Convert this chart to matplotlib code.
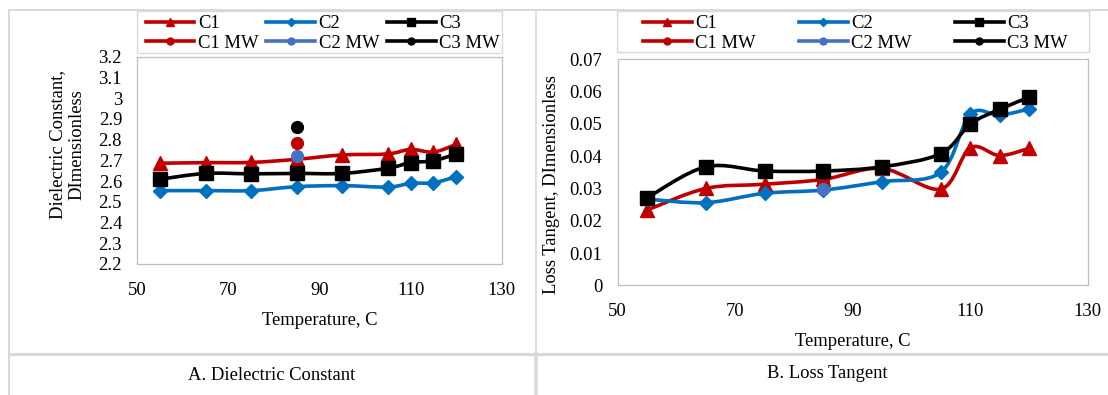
import numpy as np
import matplotlib
matplotlib.use("Agg")
import matplotlib.pyplot as plt
from matplotlib.path import Path
from matplotlib.patches import PathPatch, Rectangle
from matplotlib.lines import Line2D

# ---------- data ----------
temps = [55, 65, 75, 85, 95, 105, 110, 115, 120]
mw_temp = [85]

# dielectric constant
dk_c1 = [2.686, 2.689, 2.690, 2.705, 2.726, 2.731, 2.753, 2.740, 2.777]
dk_c2 = [2.554, 2.554, 2.554, 2.573, 2.578, 2.571, 2.589, 2.592, 2.621]
dk_c3 = [2.609, 2.637, 2.635, 2.637, 2.637, 2.662, 2.689, 2.698, 2.731]
dk_c1_mw = [2.785]
dk_c2_mw = [2.722]
dk_c3_mw = [2.859]

# loss tangent
lt_c1 = [0.0233, 0.0300, 0.0313, 0.0328, 0.0362, 0.0298, 0.0426, 0.0402, 0.0424]
lt_c2 = [0.0267, 0.0256, 0.0285, 0.0295, 0.0321, 0.0350, 0.0530, 0.0527, 0.0546]
lt_c3 = [0.0271, 0.0367, 0.0354, 0.0354, 0.0367, 0.0408, 0.0499, 0.0545, 0.0582]
lt_c1_mw = [0.0322]
lt_c2_mw = [0.0297]
lt_c3_mw = [0.0354]

dk_ticks = ["2.2", "2.3", "2.4", "2.5", "2.6", "2.7", "2.8", "2.9", "3", "3.1", "3.2"]
lt_ticks = ["0", "0.01", "0.02", "0.03", "0.04", "0.05", "0.06", "0.07"]
x_ticks = [50, 70, 90, 110, 130]

RED = "#C00000"
BLUE = "#0070C0"
BLUE_MW = "#4472C4"
BLACK = "#000000"
GREY = "#D9D9D9"
LW = 2.6

plt.rcParams["font.family"] = ["Liberation Serif", "DejaVu Serif"]
plt.rcParams["font.size"] = 13.4

W, H = 1108, 395
fig = plt.figure(figsize=(W / 100, H / 100), dpi=100)


def fx(px):
    return px / W


def fy(py):
    return 1 - py / H


def smooth_path(xs, ys):
    # cubic bezier segments through every point (catmull-rom style)
    pts = np.column_stack([xs, ys]).astype(float)
    n = len(pts)
    verts = [pts[0]]
    codes = [Path.MOVETO]
    for i in range(n - 1):
        p0 = pts[i - 1] if i > 0 else pts[i]
        p1 = pts[i]
        p2 = pts[i + 1]
        p3 = pts[i + 2] if i + 2 < n else pts[i + 1]
        c1 = p1 + (p2 - p0) / 6.0
        c2 = p2 - (p3 - p1) / 6.0
        verts += [c1, c2, p2]
        codes += [Path.CURVE4] * 3
    return Path(verts, codes)


def draw_series(ax, xs, ys, color, marker, ms):
    ax.add_patch(PathPatch(smooth_path(xs, ys), facecolor="none",
                           edgecolor=color, lw=LW, zorder=2))
    ax.plot(xs, ys, linestyle="none", marker=marker, ms=ms,
            color=color, zorder=3)


def style_axes(ax, ylim, yticks, ylabels):
    ax.set_xlim(50, 130)
    ax.set_ylim(*ylim)
    ax.set_xticks(x_ticks)
    ax.set_xticklabels([str(t) for t in x_ticks])
    ax.set_yticks(yticks)
    ax.set_yticklabels(ylabels)
    ax.tick_params(length=0, pad=11)
    ax.tick_params(axis="x", pad=13)
    for s in ax.spines.values():
        s.set_color("#BFBFBF")
        s.set_linewidth(0.9)
    ax.set_xlabel("Temperature, C", labelpad=9)


def legend_box(ax, x0, x1, rect):
    handles = [
        Line2D([], [], color=RED, lw=LW, marker="^", ms=6),
        Line2D([], [], color=RED, lw=LW, marker="o", ms=5),
        Line2D([], [], color=BLUE, lw=LW, marker="D", ms=4),
        Line2D([], [], color=BLUE_MW, lw=LW, marker="o", ms=5),
        Line2D([], [], color=BLACK, lw=LW, marker="s", ms=6),
        Line2D([], [], color=BLACK, lw=LW, marker="o", ms=5),
    ]
    labels = ["C1", "C1 MW", "C2", "C2 MW", "C3", "C3 MW"]
    ax.legend(handles, labels, ncol=3, mode="expand", frameon=False,
              loc="lower left", bbox_to_anchor=(fx(x0), fy(52), fx(x1) - fx(x0), fy(11) - fy(52)),
              bbox_transform=fig.transFigure, borderpad=0, borderaxespad=0,
              handlelength=2.6, handletextpad=0.2, labelspacing=0.15)
    l, t, r, b = rect
    fig.add_artist(Rectangle((fx(l), fy(b)), fx(r) - fx(l), fy(t) - fy(b),
                             transform=fig.transFigure, fill=False,
                             edgecolor=GREY, lw=1.0))


# ---------- A. dielectric constant ----------
ax1 = fig.add_axes([fx(137.3), fy(264), fx(501.7) - fx(137.3), fy(56.7) - fy(264)])
draw_series(ax1, temps, dk_c1, RED, "^", 10)
draw_series(ax1, temps, dk_c2, BLUE, "D", 7)
draw_series(ax1, temps, dk_c3, BLACK, "s", 9.5)
ax1.plot(mw_temp, dk_c1_mw, "o", color=RED, ms=8.5, zorder=4)
ax1.plot(mw_temp, dk_c2_mw, "o", color=BLUE_MW, ms=8.5, zorder=4)
ax1.plot(mw_temp, dk_c3_mw, "o", color=BLACK, ms=8.5, zorder=4)
style_axes(ax1, (2.2, 3.2), np.linspace(2.2, 3.2, 11), dk_ticks)
fig.text(fx(67.5), fy(145), "Dielectric Constant,\nDImensionless",
         rotation=90, ha="center", va="center", multialignment="center")
legend_box(ax1, 145.7, 500, (137.3, 11, 502, 53.3))

# ---------- B. loss tangent ----------
ax2 = fig.add_axes([fx(617.7), fy(285.3), fx(1087.7) - fx(617.7), fy(59.3) - fy(285.3)])
draw_series(ax2, temps, lt_c1, RED, "^", 10)
draw_series(ax2, temps, lt_c2, BLUE, "D", 7)
draw_series(ax2, temps, lt_c3, BLACK, "s", 9.5)
ax2.plot(mw_temp, lt_c1_mw, "o", color=RED, ms=8.5, zorder=2.5)
ax2.plot(mw_temp, lt_c2_mw, "o", color=BLUE_MW, ms=8.5, zorder=4)
ax2.plot(mw_temp, lt_c3_mw, "o", color=BLACK, ms=8.5, zorder=4)
style_axes(ax2, (0, 0.07), np.linspace(0, 0.07, 8), lt_ticks)
fig.text(fx(551), fy(185), "Loss Tangent, DImensionless",
         rotation=90, ha="center", va="center")
legend_box(ax2, 643.3, 1068, (616.7, 11, 1089, 52.3))

# ---------- table frame and captions ----------
for (x0, y0, x1, y1, lw) in [(9, 10, W, 10, 1.4), (9, 10, 9, H, 1.4),
                             (536, 10, 536, 354, 1.2), (536, 354, 536, H, 2.6),
                             (9, 354, W, 354, 2.2)]:
    fig.add_artist(Line2D([fx(x0), fx(x1)], [fy(y0), fy(y1)],
                          transform=fig.transFigure, color=GREY, lw=lw))

fig.text(fx(272), fy(375), "A. Dielectric Constant", ha="center", va="center")
fig.text(fx(827.7), fy(374), "B. Loss Tangent", ha="center", va="center")

fig.savefig("out.png", dpi=100)
